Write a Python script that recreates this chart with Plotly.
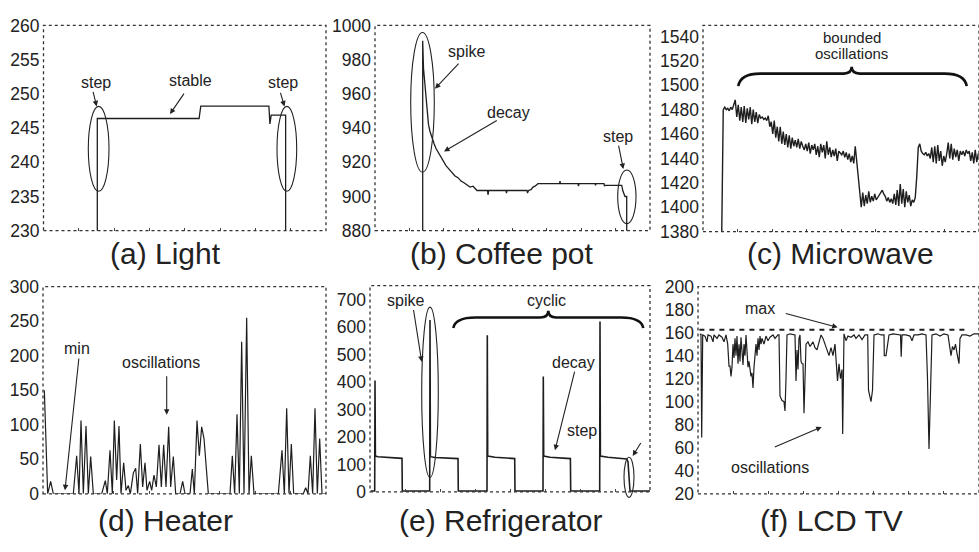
import plotly.graph_objects as go

W, H = 979, 552
INK = "#1e1e1e"
FONT = "Liberation Sans, Arial, Helvetica, sans-serif"

# ---------------- data ----------------
# (a) Light
light_t = [53.7, 53.7, 155.3, 157.0, 225.0, 226.0, 227.3, 241.7, 241.7]
light_w = [0, 246.4, 246.4, 248.2, 248.2, 245.6, 246.9, 246.9, 0]

# (b) Coffee pot
coffee_t = [47.7, 47.7, 48.5, 49.5, 50.5, 51.5, 52.5, 53.5, 55, 57, 59, 61, 63, 65, 68, 71, 74, 77,
            80, 83, 86, 89, 92, 95, 98, 100, 102, 112.5, 113, 113.7, 131, 131.5, 132, 152, 152.5, 153.5,
            156, 158, 160, 163, 184.5, 185, 185.5, 203, 203.5, 204, 220, 220.5, 221, 229, 229.5, 230,
            246.7, 248, 250, 251.7, 251.7]
coffee_w = [0, 991, 975, 968, 960, 952, 946, 942, 938, 934, 931, 928, 926, 924, 921, 918, 916, 914,
            912, 911, 909, 908, 907, 905.5, 906, 905, 903.5, 903.5, 901, 903.5, 903.5, 902, 903.5, 903.5, 902, 903.5,
            904, 905.5, 906, 907.5, 907.5, 909, 907.5, 907.5, 906, 907.5, 907.5, 906.5, 907.5, 907.5, 906, 906.5,
            906.5, 903, 900, 900, 0]

# (c) Microwave (one value per sample)
micro_w = [1380,
           1480, 1482, 1480, 1481, 1479, 1482, 1480, 1484, 1488,
           1474, 1484, 1471, 1482, 1470, 1483, 1469, 1481, 1472, 1482, 1468, 1480, 1470, 1478, 1469, 1476,
           1473, 1474, 1472, 1473, 1471, 1475,
           1466, 1470, 1460, 1471, 1457, 1466, 1454, 1466, 1452, 1462, 1451, 1460,
           1449, 1459, 1448, 1457, 1450, 1455, 1449, 1456, 1448, 1454, 1450,
           1447, 1452, 1446, 1453, 1444, 1451, 1447, 1452, 1443, 1450, 1441, 1452, 1445, 1451, 1440,
           1454, 1443, 1449, 1441, 1447, 1442, 1448, 1438, 1446, 1444,
           1443, 1446, 1441, 1445, 1439, 1444, 1437, 1442, 1436, 1450,
           1438, 1427, 1410, 1400,
           1412, 1401, 1410, 1403, 1413, 1404, 1409, 1405, 1411, 1406, 1408, 1410, 1412, 1414, 1411,
           1409, 1405, 1408, 1404, 1407, 1403, 1411, 1402, 1414, 1401, 1419, 1403, 1415, 1400, 1413,
           1404, 1410, 1401, 1406, 1404, 1408,
           1425, 1449, 1452,
           1446, 1444, 1443, 1445, 1442, 1444,
           1440, 1449, 1437, 1450, 1436, 1451, 1438, 1446, 1434, 1442, 1437,
           1444, 1453, 1440, 1452, 1439, 1448,
           1441, 1447, 1438, 1446, 1443, 1446, 1442, 1447, 1444, 1446, 1438, 1445, 1436, 1447, 1437, 1444]
micro_t = list(range(len(micro_w)))

# (d) Heater
heater_zx = [133, 143, 152, 160, 220, 230, 237, 243, 250, 258, 265, 272, 280, 305, 316, 322, 330, 337,
             343, 350, 357, 363, 371, 378, 385, 391, 400, 407, 413, 421, 428, 435, 441, 449, 455, 462,
             469, 477, 484, 491, 498, 506, 512, 520, 527, 540, 548, 555, 570, 577, 583, 591, 598, 605,
             612, 619, 625, 690, 697, 704, 711, 718, 725, 732, 740, 747, 754, 762, 835, 846, 853, 860,
             867, 874, 881, 910, 917, 924, 931, 938, 945, 952, 959, 966, 978]
heater_w = [150, 0, 18, 0, 0, 55, 0, 106, 0, 98, 0, 54, 0, 0, 19, 0, 63, 0,
            106, 20, 98, 0, 45, 5, 12, 0, 30, 37, 0, 72, 10, 45, 5, 18, 5, 27,
            10, 71, 10, 71, 10, 97, 10, 54, 0, 0, 18, 0, 0, 36, 0, 106, 55, 97,
            80, 30, 0, 0, 55, 0, 115, 0, 220, 0, 255, 0, 55, 0, 0, 63, 0, 124,
            0, 72, 0, 0, 9, 0, 55, 0, 124, 0, 80, 0, 0]
heater_t = [z / 3 - 43 for z in heater_zx]

# (e) Refrigerator
fridge_t = [0.7, 4.7, 5, 5.4, 8, 15, 25, 32, 32.3, 59.7, 60, 60.4, 65, 75, 88, 88.3, 117, 117.3, 117.7,
            125, 135, 144.7, 145, 173, 173.3, 173.7, 180, 190, 200.4, 200.7, 229.7, 230, 230.4, 238,
            250, 256.7, 258, 259.5, 260, 280]
fridge_w = [3, 3, 405, 130, 128, 126, 123, 122, 3, 3, 625, 128, 125, 123, 121, 3, 3, 570, 130,
            126, 124, 121, 3, 3, 420, 130, 126, 124, 121, 3, 3, 620, 130, 126,
            123, 120, 110, 20, 3, 3]

# (f) LCD TV
lcd_pts = [(2, 158), (3, 159), (3.7, 69), (4.7, 158), (7, 157), (9, 152), (10, 158), (13, 157), (15, 152),
           (16, 158), (19, 155), (21, 158), (24, 156), (26, 152), (28, 158), (29.7, 150), (31, 131), (32, 131),
           (33, 122), (34, 130), (35, 150), (36, 138), (37, 155), (38, 140), (39, 157), (40, 133), (41, 150),
           (42, 135), (43, 156), (44, 140), (45, 132), (46, 150), (47, 140), (48, 158), (49, 145), (50, 130),
           (51, 135), (52, 128), (53, 122), (54, 125), (55, 112), (56, 130), (57, 140), (58, 150), (59, 140),
           (60, 155), (61, 145), (62, 157), (63, 150), (64, 155), (66, 150), (68, 157), (70, 153), (72, 156),
           (75, 158), (77, 155), (80, 158), (81, 158), (82, 105), (84, 101), (86, 100), (87, 92), (88, 120),
           (89, 158), (92, 159), (95, 158), (97, 158), (98, 118), (99, 145), (100, 128), (101, 155), (102, 158),
           (103, 135), (104, 133), (105, 133), (106, 90), (107, 130), (108, 150), (110, 152), (112, 148),
           (115, 152), (117, 147), (119, 145), (121, 152), (123, 158), (125, 155), (127, 150), (129, 145),
           (131, 140), (133, 147), (135, 140), (137, 150), (138, 140), (139.5, 118), (141, 133), (142.5, 120),
           (144, 128), (144.7, 72), (146, 159), (148, 153), (150, 157), (153, 156), (156, 158), (158, 155),
           (161, 158), (164, 154), (167, 158), (169.7, 158), (170.5, 110), (172, 105), (173, 100), (174.5, 110),
           (176, 158), (180, 159), (183, 158), (186, 158), (186.3, 140), (188, 140), (189.7, 153), (191, 158),
           (195, 159), (200, 158), (202.5, 158), (203.2, 139), (204, 158), (208, 158), (212, 157), (214, 153),
           (216, 158), (220, 158), (224, 159), (228, 158), (229.5, 120), (231, 59), (232.5, 110), (234, 158),
           (238, 159), (242, 157), (246, 159), (250, 158), (253, 140), (254.5, 148), (256, 145), (257.5, 150),
           (259, 142), (261, 133), (262, 155), (264, 158), (268, 158), (272, 157), (276, 159), (281, 159)]
lcd_t = [p[0] for p in lcd_pts]
lcd_w = [p[1] for p in lcd_pts]
lcd_max = 162.6

# ---------------- panels ----------------
panels = [
    dict(t=light_t, v=light_w, dx=(43.5, 326), dy=(16, 229), xr=(0, 282), yr=(230, 260), dt=5, w=1.3),
    dict(t=coffee_t, v=coffee_w, dx=(375, 650), dy=(16, 229), xr=(0, 275), yr=(880, 1000), dt=20, w=1.3),
    dict(t=micro_t, v=micro_w, dx=(703, 979), dy=(16, 230), xr=(-12.5, 171.5), yr=(1380, 1549), dt=20, w=1.4),
    dict(t=heater_t, v=heater_w, dx=(43, 326), dy=(287, 502), xr=(0, 283), yr=(0, 300), dt=50, w=1.2),
    dict(t=fridge_t, v=fridge_w, dx=(370, 650), dy=(286, 500), xr=(0, 280), yr=(0, 750), dt=100, w=1.6),
    dict(t=lcd_t, v=lcd_w, dx=(698, 979), dy=(287, 502), xr=(0, 281), yr=(20, 200), dt=20, w=1.2),
]

fig = go.Figure()
shapes = []
annotations = []

for i, p in enumerate(panels, start=1):
    sfx = "" if i == 1 else str(i)
    fig.add_trace(go.Scatter(x=p["t"], y=p["v"], mode="lines",
                             line=dict(color=INK, width=p["w"]),
                             xaxis="x" + sfx, yaxis="y" + sfx, showlegend=False, hoverinfo="skip"))
    xr = p["xr"]
    fig.layout["xaxis" + sfx] = dict(
        domain=[p["dx"][0] / W, min(p["dx"][1] / W, 1.0)], range=list(xr), anchor="y" + sfx,
        showgrid=False, zeroline=False, showline=False, showticklabels=False,
        ticks="inside", ticklen=3, tickwidth=1, tickcolor="#444",
        tick0=xr[0], dtick=(xr[1] - xr[0]) / 8)
    fig.layout["yaxis" + sfx] = dict(
        domain=[1 - p["dy"][1] / H, 1 - p["dy"][0] / H], range=list(p["yr"]), anchor="x" + sfx,
        showgrid=False, zeroline=False, showline=False, ticks="",
        tick0=0, dtick=p["dt"], ticklabelstandoff=3,
        tickfont=dict(family=FONT, size=17.5, color="#222"))
    shapes.append(dict(type="rect", xref="x" + sfx + " domain", yref="y" + sfx + " domain",
                       x0=0, x1=1, y0=0, y1=1, line=dict(color="#333", width=1.3, dash="dot"),
                       layer="above"))

# max reference line in (f)
shapes.append(dict(type="line", xref="x6 domain", yref="y6", x0=0.005, x1=0.955, y0=lcd_max, y1=lcd_max,
                   line=dict(color=INK, width=2, dash="5px,5px")))


def PX(x):
    return x / W


def PY(y):
    return 1 - y / H


def label(x, y, s, size=16):
    annotations.append(dict(x=PX(x), y=PY(y), xref="paper", yref="paper", text=s, showarrow=False,
                            xanchor="center", yanchor="middle",
                            font=dict(family=FONT, size=size, color="#222")))


def arrow(x0, y0, x1, y1):
    annotations.append(dict(x=PX(x1), y=PY(y1), xref="paper", yref="paper", ax=x0 - x1, ay=y0 - y1,
                            axref="pixel", ayref="pixel", text="", showarrow=True, arrowhead=2,
                            arrowsize=1, arrowwidth=1.1, arrowcolor="#222"))


def ellipse(l, r, t, b):
    shapes.append(dict(type="circle", xref="paper", yref="paper", x0=PX(l), x1=PX(r), y0=PY(b), y1=PY(t),
                       line=dict(color="#222", width=1.1)))


def brace(l, r, yend, yline, ytip, xtip):
    pts = [(l, yend), (l + 2, yline), (l + 22, yline), (xtip - 8, yline), (xtip, yline), (xtip, ytip),
           (xtip, yline), (xtip + 8, yline), (r - 22, yline), (r - 2, yline), (r, yend)]
    f = lambda q: f"{PX(q[0]):.5f},{PY(q[1]):.5f}"
    path = (f"M {f(pts[0])} Q {f(pts[1])} {f(pts[2])} L {f(pts[3])} Q {f(pts[4])} {f(pts[5])} "
            f"Q {f(pts[6])} {f(pts[7])} L {f(pts[8])} Q {f(pts[9])} {f(pts[10])}")
    shapes.append(dict(type="path", xref="paper", yref="paper", path=path,
                       line=dict(color="#111", width=2.6)))


# (a)
label(96, 75, "step"); label(190, 73, "stable"); label(283, 75, "step")
arrow(92.7, 84, 96.7, 100); arrow(185, 86, 170, 108); arrow(280, 85, 284.5, 100)
ellipse(88.3, 109, 100, 188); ellipse(277, 296.7, 100, 188)
# (b)
label(466.7, 43.3, "spike"); arrow(460, 55, 435, 81.7)
label(508.3, 106.7, "decay"); arrow(498.3, 115, 444, 146.7)
label(618.3, 131.7, "step"); arrow(618.3, 140, 623.3, 165)
ellipse(410.7, 434.3, 23.3, 168.3); ellipse(617.7, 636, 166, 221.7)
# (c)
label(851.7, 28.3, "bounded", 15); label(851.7, 45, "oscillations", 15)
brace(738.3, 966.7, 79, 66, 59, 851.7)
# (d)
label(76.7, 351.7, "min"); arrow(79, 365, 65, 498.3)
label(161, 366, "oscillations"); arrow(166.7, 380, 166.7, 420)
# (e)
label(405, 301.7, "spike"); arrow(413.3, 311.7, 421.7, 365)
ellipse(421.7, 438.3, 308.3, 485)
label(546.7, 301.7, "cyclic"); brace(453.3, 643.3, 330, 319, 312, 548.3)
label(573.3, 366, "decay"); arrow(575, 376.7, 555, 456.7)
label(581.7, 436.7, "step"); arrow(641.7, 448.3, 632.7, 462.7)
ellipse(624, 634, 464, 505.7)
# (f)
label(760, 310, "max"); arrow(784.3, 315, 837.7, 329.3)
label(770, 475, "oscillations"); arrow(773.3, 453.3, 821.7, 432.7)

# panel titles
for (x, y, s) in [(165, 253, "(a) Light"), (502, 253, "(b) Coffee pot"), (840, 253, "(c) Microwave"),
                  (165, 530, "(d) Heater"), (500.5, 530, "(e) Refrigerator"), (831, 530, "(f) LCD TV")]:
    label(x, y, s, 30)

fig.update_layout(width=W, height=H, margin=dict(l=0, r=0, t=0, b=0),
                  paper_bgcolor="white", plot_bgcolor="white",
                  shapes=shapes, annotations=annotations,
                  font=dict(family=FONT, color="#222"))

fig.write_html("out.html", config={"displayModeBar": False},
               post_script="document.body.style.margin='0px';")
